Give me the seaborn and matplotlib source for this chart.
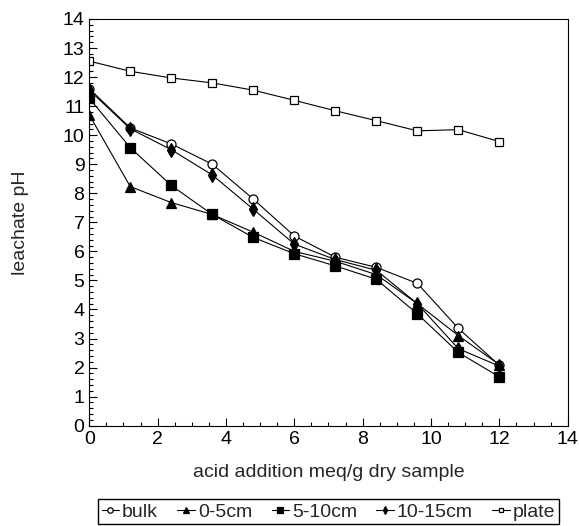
import matplotlib
matplotlib.use('Agg')
import matplotlib.pyplot as plt
import seaborn as sns
from matplotlib.ticker import MultipleLocator

# 산 첨가량 (meq/g dry sample)
acid = [0, 1.2, 2.4, 3.6, 4.8, 6.0, 7.2, 8.4, 9.6, 10.8, 12.0]

# 침출수 pH
bulk = [11.6, 10.25, 9.7, 9.0, 7.8, 6.53, 5.8, 5.45, 4.9, 3.35, 2.08]
cm0_5 = [10.7, 8.23, 7.68, 7.27, 6.66, 6.0, 5.66, 5.2, 4.2, 3.1, 2.1]
cm5_10 = [11.27, 9.57, 8.27, 7.27, 6.48, 5.92, 5.5, 5.04, 3.85, 2.52, 1.68]
cm10_15 = [11.55, 10.22, 9.5, 8.63, 7.45, 6.25, 5.72, 5.35, 4.2, 2.65, 2.05]
plate = [12.55, 12.2, 11.97, 11.8, 11.55, 11.2, 10.84, 10.5, 10.15, 10.19, 9.78]

series = ['bulk', '0-5cm', '5-10cm', '10-15cm', 'plate']
values = [bulk, cm0_5, cm5_10, cm10_15, plate]
markers = ['o', '^', 's', 'd', 's']
sizes = [6.5, 7, 6.5, 7, 6]
faces = ['white', 'black', 'black', 'black', 'white']

sns.set_style('ticks')
plt.rcParams['font.family'] = ['Liberation Sans', 'DejaVu Sans']

fig = plt.figure(figsize=(5.79, 5.26), dpi=100)
ax = fig.add_axes([0.1542, 0.1907, 0.8263, 0.7732])

for name, vals, m, ms, fc in zip(series, values, markers, sizes, faces):
    sns.lineplot(x=acid, y=vals, ax=ax, color='black', linewidth=0.8,
                 marker=m, markersize=ms, markerfacecolor=fc,
                 markeredgecolor='black', markeredgewidth=0.9, label=name)

ax.set_xlim(0, 14)
ax.set_ylim(0, 14)
ax.xaxis.set_major_locator(MultipleLocator(2))
ax.xaxis.set_minor_locator(MultipleLocator(0.5))
ax.yaxis.set_major_locator(MultipleLocator(1))
ax.yaxis.set_minor_locator(MultipleLocator(0.2))
ax.tick_params(which='both', direction='in', top=False, right=False,
               labelsize=14, colors='black', width=0.8)
ax.tick_params(which='major', length=6)
ax.tick_params(which='minor', length=3)
for s in ax.spines.values():
    s.set_color('black')
    s.set_linewidth(0.8)

ax.set_xlabel('acid addition meq/g dry sample', fontsize=14, labelpad=12)
ax.set_ylabel('leachate pH', fontsize=14, labelpad=24)

ax.legend(loc='upper center', bbox_to_anchor=(0.5672, 0.0513),
          bbox_transform=fig.transFigure, ncol=5, fontsize=14,
          frameon=True, fancybox=False, edgecolor='black', framealpha=1,
          handlelength=0.9, handletextpad=0.15, columnspacing=1.0,
          borderpad=0.2, markerscale=0.6, borderaxespad=0)

fig.savefig('out.png', dpi=100)
